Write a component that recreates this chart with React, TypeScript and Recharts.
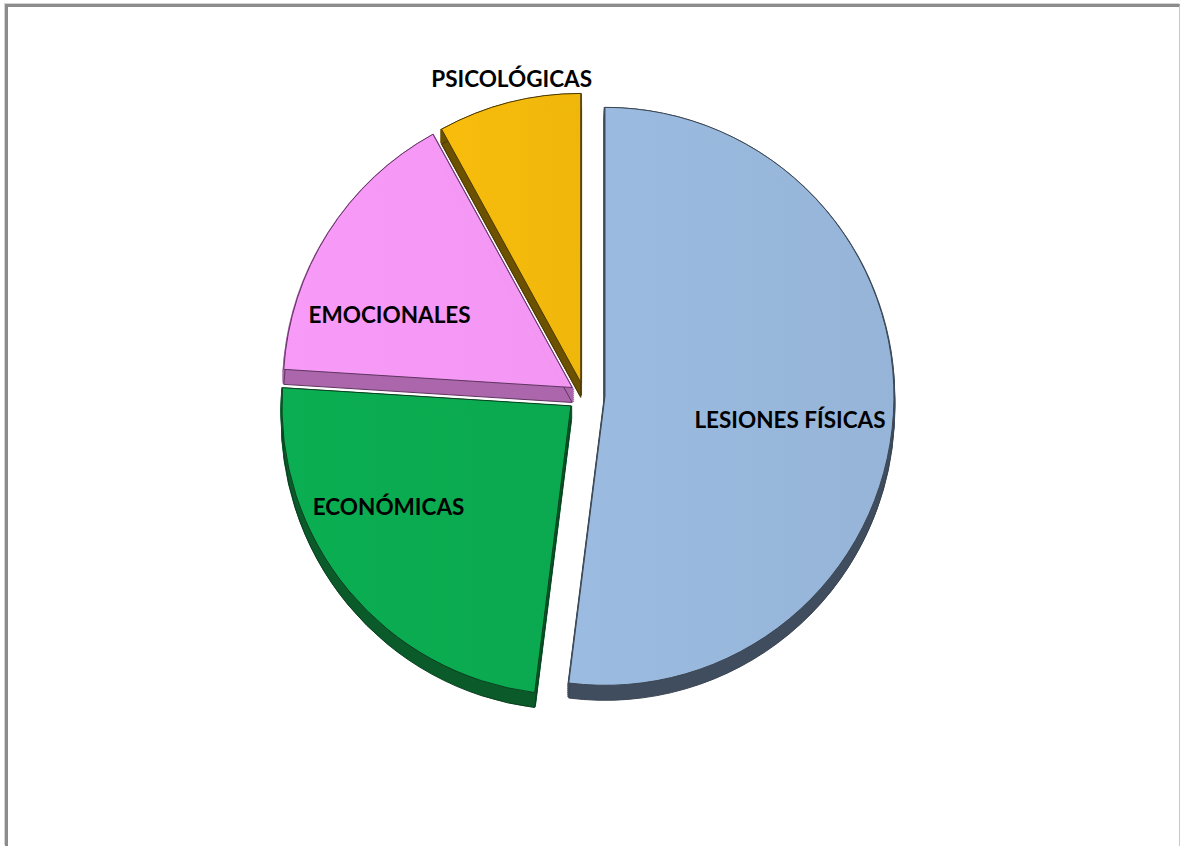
import { PieChart, Pie, Cell } from "recharts";

const categories = ["LESIONES FÍSICAS", "ECONÓMICAS", "EMOCIONALES", "PSICOLÓGICAS"];
const values = [52, 24, 16, 8];

// face colours, side (extrusion) colours, outline colours
const TOP = ["#9bbbe0", "#0bae52", "#f89af8", "#f8bd0c"];
const SIDE = ["#3f4d5e", "#0b5a29", "#ac66ac", "#6b5100"];
const EDGE = ["#3c4652", "#0a4020", "#5e355e", "#4a3800"];

// how far each slice is pulled out, and where its label sits (radius ratio, angle shift)
const EXPLODE = [21, 17, 14, 13];
const LABEL_POS: [number, number][] = [[0.645, 3.4], [0.72, 10.8], [0.68, -10.7], [1.08, 1.6]];

const CX = 584;
const CY = 395;
const R = 289;
const DEPTH = 15;
const DEPTH_STEPS = [1, 3, 5, 7, 9, 11, 13, DEPTH];

const data = categories.map((name, i) => ({ name, value: values[i] }));
const total = values.reduce((a, b) => a + b, 0);

// mid angle of each slice, clockwise from 12 o'clock
const midDeg = values.map((v, i) => {
  const before = values.slice(0, i).reduce((a, b) => a + b, 0);
  return ((before + v / 2) / total) * 360;
});

function offset(i: number) {
  const a = (midDeg[i] * Math.PI) / 180;
  return { dx: Math.sin(a) * EXPLODE[i], dy: -Math.cos(a) * EXPLODE[i] };
}

function labelFor(idx: number) {
  return (props: any) => {
    if (props.index !== idx) return null;
    const [ratio, shift] = LABEL_POS[idx];
    const a = ((props.midAngle - shift) * Math.PI) / 180;
    const r = props.outerRadius * ratio;
    const x = props.cx + r * Math.cos(a);
    const y = props.cy - r * Math.sin(a);
    return (
      <text key={`lbl-${idx}`} x={x} y={y} textAnchor="middle" dominantBaseline="central"
        fontFamily="Lato, 'Open Sans', sans-serif" fontWeight={700} fontSize={22.5} fill="#000">
        {categories[idx]}
      </text>
    );
  };
}

// back-to-front: yellow, pink, green, blue
const ORDER = [3, 2, 1, 0];

export default function App() {
  const pies: JSX.Element[] = [];
  ORDER.forEach((idx) => {
    const { dx, dy } = offset(idx);
    DEPTH_STEPS.forEach((d) => {
      const last = d === DEPTH;
      pies.push(
        <Pie key={`side-${idx}-${d}`} data={data} dataKey="value" nameKey="name"
          cx={CX + dx} cy={CY + dy + d} outerRadius={R} startAngle={90} endAngle={-270}
          isAnimationActive={false} labelLine={false}>
          {data.map((_, i) => (
            <Cell key={i} fill={i === idx ? SIDE[idx] : "none"}
              stroke={i === idx ? (last ? EDGE[idx] : SIDE[idx]) : "none"}
              strokeWidth={last ? 1 : 2.5} />
          ))}
        </Pie>
      );
    });
    pies.push(
      <Pie key={`top-${idx}`} data={data} dataKey="value" nameKey="name"
        cx={CX + dx} cy={CY + dy} outerRadius={R} startAngle={90} endAngle={-270}
        isAnimationActive={false} labelLine={false} label={labelFor(idx)}>
        {data.map((_, i) => (
          <Cell key={i} fill={i === idx ? `url(#face-${idx})` : "none"}
            stroke={i === idx ? EDGE[idx] : "none"} strokeWidth={1} />
        ))}
      </Pie>
    );
  });

  return (
    <div style={{ position: "absolute", left: 0, top: 0, width: 1180, height: 846, overflow: "hidden", background: "#fff" }}>
      <div style={{
        position: "absolute", left: 5, top: 4, width: 1175, height: 842, boxSizing: "border-box",
        borderLeft: "3px solid #8c8c8c", borderTop: "3px solid #8c8c8c", borderRight: "1px solid #c8c8c8",
        boxShadow: "-1px -1px 0 #d4d4d4",
      }} />
      <div style={{ position: "absolute", left: 0, top: 0 }}>
        <PieChart width={1180} height={846} margin={{ top: 0, right: 0, bottom: 0, left: 0 }}>
          <defs>
            {TOP.map((c, i) => (
              <linearGradient key={i} id={`face-${i}`} x1="0" y1="0" x2="1" y2="0">
                <stop offset="0%" stopColor={c} stopOpacity={1} />
                <stop offset="100%" stopColor={c} stopOpacity={0.94} />
              </linearGradient>
            ))}
          </defs>
          {pies}
        </PieChart>
      </div>
    </div>
  );
}
